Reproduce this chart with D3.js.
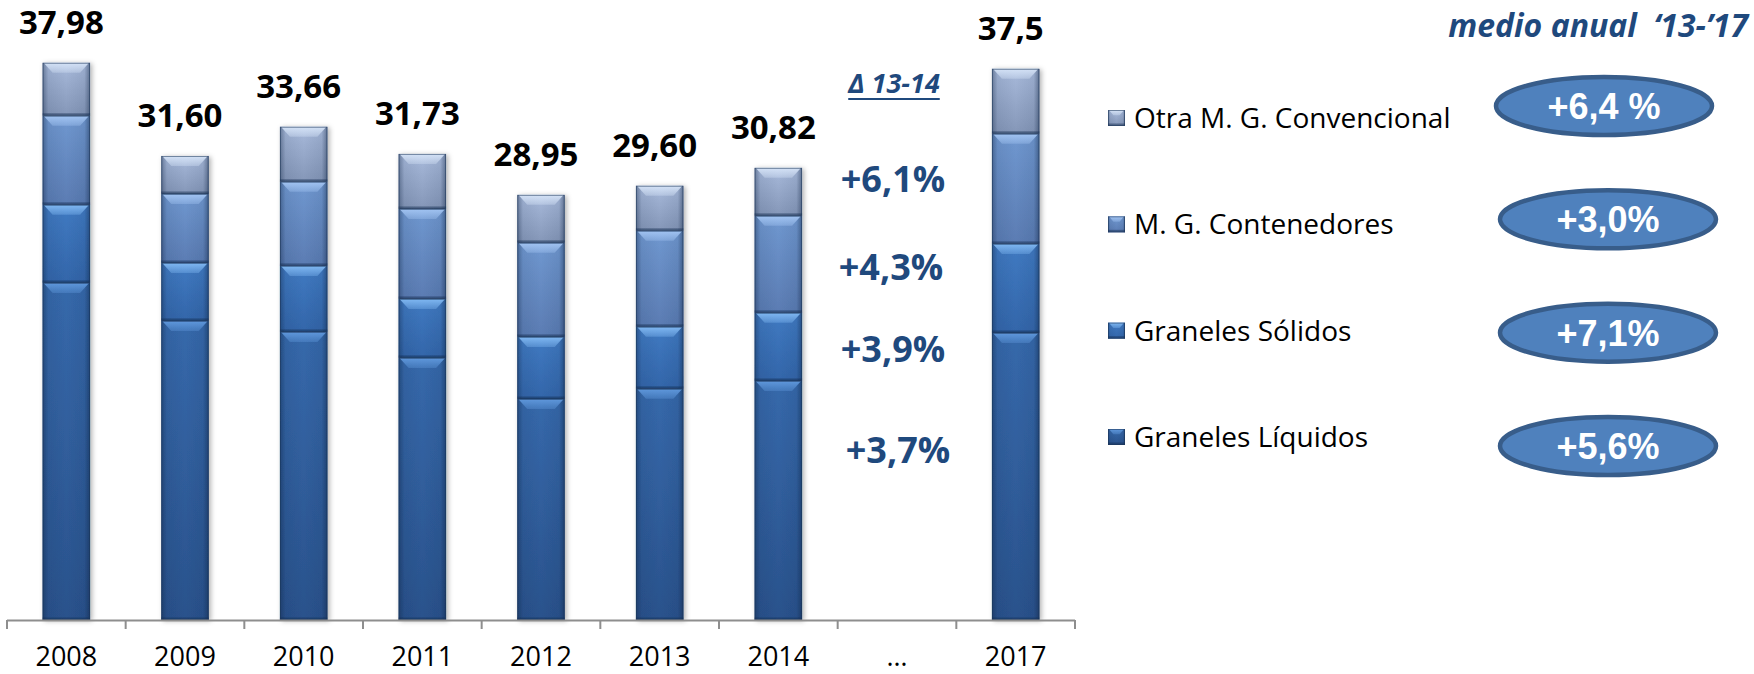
<!DOCTYPE html>
<html>
<head>
<meta charset="utf-8">
<script src="https://cdn.jsdelivr.net/npm/d3@7"></script>
<style>
  html, body { margin: 0; padding: 0; background: #ffffff; }
  svg { display: block; }
</style>
</head>
<body>
<svg id="chart" width="1754" height="674"></svg>
<script>
// ---------- DATA ----------
const years = ["2008", "2009", "2010", "2011", "2012", "2013", "2014", "…", "2017"];
const liquidos     = [22.97, 20.38, 19.63, 17.86, 15.06, 15.75, 16.29, null, 19.56];
const solidos      = [5.32, 3.95, 4.50, 4.02, 4.23, 4.23, 4.64, null, 6.07];
const contenedores = [6.07, 4.70, 5.73, 6.13, 6.41, 6.54, 6.61, null, 7.50];
const otra         = [3.61, 2.59, 3.75, 3.75, 3.27, 3.07, 3.27, null, 4.43];
const totalLabels  = ["37,98", "31,60", "33,66", "31,73", "28,95", "29,60", "30,82", "", "37,5"];

const seriesKeys   = ["liq", "sol", "cont", "otra"];
const seriesNames  = ["Graneles Líquidos", "Graneles Sólidos", "M. G. Contenedores", "Otra M. G. Convencional"];
const deltaTitle   = "Δ 13-14";
const deltaLabels  = ["+6,1%", "+4,3%", "+3,9%", "+3,7%"];
const growthTitle  = "medio anual\u00a0\u00a0‘13-’17";
const growthLabels = ["+6,4 %", "+3,0%", "+7,1%", "+5,6%"]; // top to bottom: Otra, Cont, Sól, Líq

// ---------- STYLES ----------
const palette = {
  liq:  { top: "#3669ab", bot: "#2a528c", bevel: "#5f98dc" },
  sol:  { top: "#407ac2", bot: "#3366aa", bevel: "#80b8f2" },
  cont: { top: "#7098d0", bot: "#5b7cb3", bevel: "#a2c4f2" },
  otra: { top: "#a8badb", bot: "#8597b8", bevel: "#d4e2f6" }
};
const textBlue = "#1f497d";

const svg = d3.select("#chart");
const defs = svg.append("defs");

seriesKeys.forEach(k => {
  const g = defs.append("linearGradient").attr("id", "v-" + k)
    .attr("x1", 0).attr("y1", 0).attr("x2", 0).attr("y2", 1);
  g.append("stop").attr("offset", "0%").attr("stop-color", palette[k].top);
  g.append("stop").attr("offset", "100%").attr("stop-color", palette[k].bot);
  const b = defs.append("linearGradient").attr("id", "b-" + k)
    .attr("x1", 0).attr("y1", 0).attr("x2", 0).attr("y2", 1);
  b.append("stop").attr("offset", "0%").attr("stop-color", palette[k].bevel).attr("stop-opacity", 1);
  b.append("stop").attr("offset", "100%").attr("stop-color", palette[k].bevel).attr("stop-opacity", 0.35);
});
const hEdge = defs.append("linearGradient").attr("id", "hedge")
  .attr("x1", 0).attr("y1", 0).attr("x2", 1).attr("y2", 0);
[[0, 0.4], [0.12, 0.08], [0.5, 0], [0.88, 0.08], [1, 0.45]].forEach(([o, a]) =>
  hEdge.append("stop").attr("offset", o).attr("stop-color", "#0b1f3d").attr("stop-opacity", a));

const shadow = defs.append("filter").attr("id", "shadow")
  .attr("x", "-30%").attr("y", "-10%").attr("width", "160%").attr("height", "120%");
shadow.append("feDropShadow").attr("dx", 2).attr("dy", 1).attr("stdDeviation", 2.5)
  .attr("flood-color", "#000").attr("flood-opacity", 0.3);

// ---------- SCALES ----------
const x = d3.scaleBand().domain(years).range([7, 1075]).paddingInner(0.6).paddingOuter(0.3);
const y = d3.scaleLinear().domain([0, 40]).range([620, 33]);

const rows = years.map((yr, i) => ({
  year: yr,
  liq: liquidos[i] || 0, sol: solidos[i] || 0, cont: contenedores[i] || 0, otra: otra[i] || 0,
  label: totalLabels[i]
}));
const stacked = d3.stack().keys(seriesKeys)(rows);

function drawSeg(g, x0, y0, w, h, key) {
  const s = g.append("g");
  s.append("rect").attr("x", x0).attr("y", y0).attr("width", w).attr("height", h)
    .attr("fill", `url(#v-${key})`);
  s.append("rect").attr("x", x0).attr("y", y0).attr("width", w).attr("height", h)
    .attr("fill", "url(#hedge)");
  const b = Math.min(10, h / 3);
  s.append("polygon")
    .attr("points", [[x0 + 1, y0], [x0 + w - 1, y0], [x0 + w - b, y0 + b], [x0 + b, y0 + b]].map(p => p.join(",")).join(" "))
    .attr("fill", `url(#b-${key})`);
  s.append("rect").attr("x", x0).attr("y", y0 + h - 2.5).attr("width", w).attr("height", 2.5)
    .attr("fill", "#142c4f").attr("opacity", 0.45);
  s.append("rect").attr("x", x0 + 0.5).attr("y", y0 + 0.5).attr("width", w - 1).attr("height", h - 1)
    .attr("fill", "none").attr("stroke", "#1b3457").attr("stroke-opacity", 0.55).attr("stroke-width", 1);
}

// ---------- BARS ----------
const barsG = svg.append("g").attr("filter", "url(#shadow)");
rows.forEach((r, i) => {
  const bx = x(r.year), bw = x.bandwidth();
  stacked.forEach(layer => {
    const d = layer[i];
    const h = y(d[0]) - y(d[1]);
    if (h > 0.5) drawSeg(barsG, bx, y(d[1]), bw, h, layer.key);
  });
});

// ---------- AXIS ----------
const axisG = svg.append("g");
const [r0, r1] = x.range();
axisG.append("line").attr("x1", r0).attr("x2", r1).attr("y1", y(0) + 0.5).attr("y2", y(0) + 0.5)
  .attr("stroke", "#8e8e8e").attr("stroke-width", 2);
const bounds = years.map(d => x(d) - x.step() * x.paddingOuter()).concat([r1]);
axisG.selectAll("line.tick").data(bounds).join("line").attr("class", "tick")
  .attr("x1", d => d).attr("x2", d => d).attr("y1", y(0)).attr("y2", y(0) + 9)
  .attr("stroke", "#8e8e8e").attr("stroke-width", 2);
axisG.selectAll("text").data(years).join("text")
  .attr("x", d => x(d) + x.bandwidth() / 2).attr("y", 666)
  .attr("text-anchor", "middle")
  .attr("font-family", "'Open Sans', sans-serif").attr("font-size", 27).attr("fill", "#000")
  .text(d => d);

// ---------- TOTAL LABELS ----------
svg.append("g").selectAll("text").data(rows.filter(r => r.label)).join("text")
  .attr("x", d => x(d.year) + x.bandwidth() / 2 - 5)
  .attr("y", d => y(d.liq + d.sol + d.cont + d.otra) - 29)
  .attr("text-anchor", "middle")
  .attr("font-family", "'Open Sans', sans-serif").attr("font-weight", 700).attr("font-size", 33)
  .attr("fill", "#000").text(d => d.label);

// ---------- DELTA 13-14 ----------
const dt = svg.append("text").attr("x", 894).attr("y", 93).attr("text-anchor", "middle")
  .attr("font-family", "'Open Sans', sans-serif").attr("font-weight", 700).attr("font-style", "italic")
  .attr("font-size", 27).attr("fill", textBlue).text(deltaTitle);
const dtw = dt.node().getComputedTextLength();
svg.append("line").attr("x1", 894 - dtw / 2).attr("x2", 894 + dtw / 2).attr("y1", 99).attr("y2", 99)
  .attr("stroke", textBlue).attr("stroke-width", 2);
const deltaY = [192, 280, 362, 463];
const deltaX = [893, 891, 893, 898];
svg.append("g").selectAll("text").data(deltaLabels).join("text")
  .attr("x", (d, i) => deltaX[i]).attr("y", (d, i) => deltaY[i]).attr("text-anchor", "middle")
  .attr("font-family", "'Open Sans', sans-serif").attr("font-weight", 700).attr("font-size", 36)
  .attr("fill", textBlue).text(d => d);

// ---------- LEGEND ----------
const legendOrder = seriesKeys.slice().reverse();
const ly = d3.scalePoint().domain(legendOrder).range([118, 437]);
const legG = svg.append("g");
legendOrder.forEach(k => {
  const cy = ly(k);
  const m = legG.append("g");
  drawSeg(m, 1108, cy - 8, 17, 16, k);
  legG.append("text").attr("x", 1134).attr("y", cy + 10)
    .attr("font-family", "'Open Sans', sans-serif").attr("font-size", 28).attr("fill", "#000")
    .text(seriesNames[seriesKeys.indexOf(k)]);
});

// ---------- GROWTH OVALS ----------
svg.append("text").attr("x", 1748).attr("y", 37).attr("text-anchor", "end")
  .attr("font-family", "'Open Sans', sans-serif").attr("font-weight", 700).attr("font-style", "italic")
  .attr("font-size", 32).attr("fill", textBlue).text(growthTitle);
const oy = d3.scalePoint().domain(legendOrder).range([106, 446]);
const ovG = svg.append("g");
legendOrder.forEach((k, i) => {
  const cy = oy(k), cx = i === 0 ? 1604 : 1608;
  ovG.append("ellipse").attr("cx", cx).attr("cy", cy).attr("rx", 108).attr("ry", 29)
    .attr("fill", "#4f81bd").attr("stroke", "#385d8a").attr("stroke-width", 4.5);
  ovG.append("text").attr("x", cx).attr("y", cy + 13).attr("text-anchor", "middle")
    .attr("font-family", "'Liberation Sans', Arial, sans-serif").attr("font-weight", 700)
    .attr("font-size", 36).attr("fill", "#fff").text(growthLabels[i]);
});
</script>
</body>
</html>
